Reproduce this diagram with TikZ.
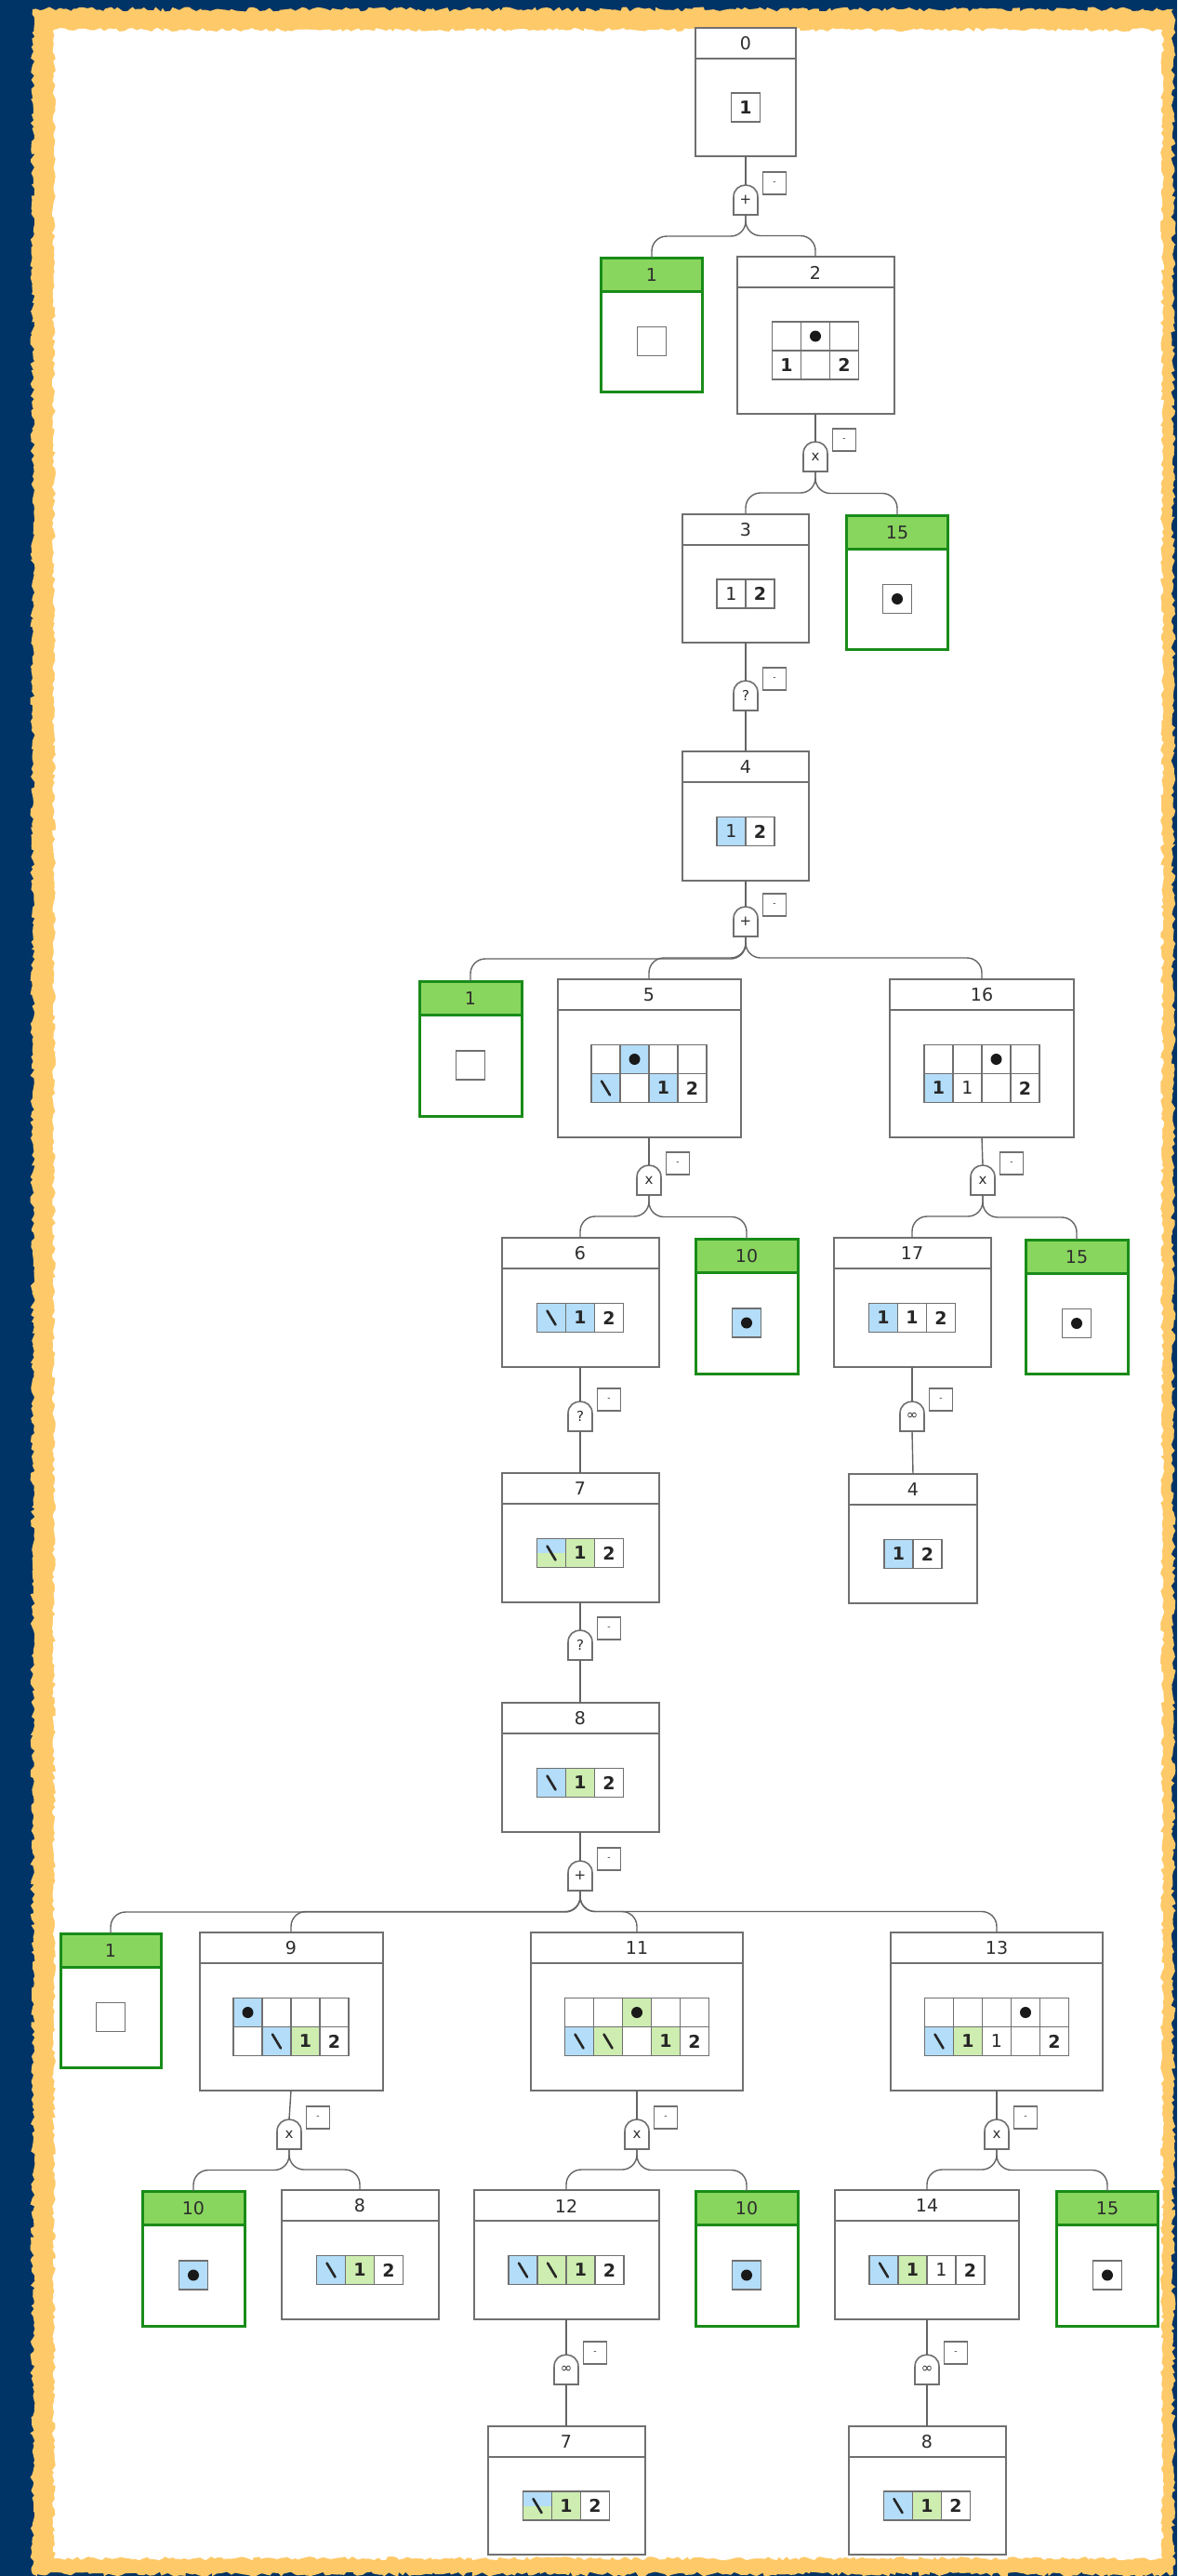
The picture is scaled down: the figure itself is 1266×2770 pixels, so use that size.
\documentclass[tikz,border=0pt]{standalone}
\usepackage{fontspec}
\setmainfont{DejaVu Sans}
\usetikzlibrary{calc,decorations.pathmorphing}
\definecolor{navy}{RGB}{0,51,102}
\definecolor{frameY}{RGB}{254,201,104}
\definecolor{lineG}{RGB}{112,112,112}
\definecolor{edgeG}{RGB}{100,100,100}
\definecolor{gBorder}{RGB}{25,140,25}
\definecolor{gHead}{RGB}{137,214,94}
\definecolor{cBlue}{RGB}{179,221,248}
\definecolor{cGreen}{RGB}{206,237,176}
\definecolor{txt}{RGB}{45,45,45}
\newcount\cellno
\tikzset{
  wbox/.style={draw=lineG, line width=2pt, fill=white, inner sep=0pt, outer sep=0pt},
  gbox/.style={fill=white, inner sep=0pt, outer sep=0pt},
  gline/.style={draw=gBorder, line width=3pt},
  wline/.style={draw=lineG, line width=2pt},
  htext/.style={font=\fontsize{19}{19}\selectfont, text=txt, inner sep=0pt},
  cellbox/.style={draw=lineG, line width=1.6pt, fill=white, minimum size=31pt, inner sep=0pt, outer sep=0pt, text=black!85},
  bsl/.style={line width=2.6pt, black!85, line cap=round},
  gateline/.style={draw=lineG, line width=1.6pt, fill=white},
  gatenode/.style={minimum width=26pt, minimum height=32pt, inner sep=0pt, outer sep=0pt, font=\fontsize{15}{15}\selectfont, text=txt},
  minusbox/.style={draw=lineG, line width=1.5pt, fill=white, minimum width=25pt, minimum height=24pt, inner sep=0pt, font=\fontsize{9}{9}\selectfont, text=txt},
  conn/.style={draw=edgeG, line width=1.4pt},
  bra/.style={to path={[rounded corners=16pt] -- ($(\tikztostart)!0.5!(\tikztostart |- \tikztotarget)$) -| (\tikztotarget)}}
}
\newcommand\dg[1]{{\fontsize{19}{19}\selectfont\bfseries #1}}
\newcommand\dl[1]{{\fontsize{19}{19}\selectfont #1}}
\newcommand\wnode[6]{%
  \node[wbox, minimum width=#5pt, minimum height=#6pt, anchor=north] (#1) at (#3,#4) {};
  \draw[wline] ([yshift=-33pt]#1.north west) -- ([yshift=-33pt]#1.north east);
  \node[htext] (#1-h) at ([yshift=-17pt]#1.north) {#2};
  \coordinate (#1-b) at ($(#1.south)!0.5!([yshift=-33pt]#1.north)$);}
\newcommand\gnode[6]{%
  \node[gbox, minimum width=#5pt, minimum height=#6pt, anchor=north] (#1) at (#3,#4) {};
  \fill[gHead] (#1.north west) rectangle ([yshift=-36pt]#1.north east);
  \draw[gline] (#1.north west) rectangle (#1.south east);
  \draw[gline] ([yshift=-36pt]#1.north west) -- ([yshift=-36pt]#1.north east);
  \node[htext] (#1-h) at ([yshift=-18.5pt]#1.north) {#2};
  \coordinate (#1-b) at ($(#1.south)!0.5!([yshift=-36pt]#1.north)$);}
\newcommand\cel[4]{\global\advance\cellno by 1
  \node[cellbox, fill=#3] (cell\the\cellno) at (#1,#2) {#4};}
\newcommand\bslash{\draw[bsl] ([shift={(-4.5pt,7.5pt)}]cell\the\cellno.center) -- ([shift={(4.5pt,-7.5pt)}]cell\the\cellno.center);}
\newcommand\celD[3]{\cel{#1}{#2}{#3}{}\fill[black!90] (cell\the\cellno.center) circle (6pt);}
\newcommand\celB[3]{\cel{#1}{#2}{#3}{}\bslash}
\newcommand\celH[2]{\cel{#1}{#2}{cBlue}{}%
  \fill[cGreen] (cell\the\cellno.west) rectangle (cell\the\cellno.south east);
  \draw[lineG, line width=1.6pt] (cell\the\cellno.south west) rectangle (cell\the\cellno.north east);
  \bslash}
\newcommand\gate[4]{%
  \filldraw[gateline] (#2-13,#3+32) -- (#2-13,#3+13) .. controls (#2-13,#3-4.3) and (#2+13,#3-4.3) .. (#2+13,#3+13) -- (#2+13,#3+32) -- cycle;
  \node[gatenode] (#1) at (#2,#3+16) {\raisebox{-2pt}{#4}};
  \node[minusbox] (#1-m) at (#2+31,#3-2) {-};}
\begin{document}
\begin{tikzpicture}[x=1pt,y=-1pt]
\useasboundingbox (0,0) rectangle (1266,2770);
\fill[navy] (0,0) rectangle (1266,2770);
\pgfmathsetseed{7}
\fill[frameY, decorate, decoration={random steps, segment length=4pt, amplitude=2.5pt}] (35,10) -- (1262,10) -- (1262,2768) -- (35,2768) -- cycle;
\fill[white, decorate, decoration={random steps, segment length=4pt, amplitude=2pt}] (58,32) -- (1250,32) -- (1250,2751) -- (58,2751) -- cycle;

% ---------- nodes ----------
\wnode{n0}{0}{802}{30}{108}{138}
\begin{scope}[shift={(n0-b)},x=31pt,y=-31pt] \cel{0}{0}{white}{\dg 1} \end{scope}
\gate{g0}{802}{199}{+}

\gnode{n1a}{1}{701}{277}{109}{144}
\begin{scope}[shift={(n1a-b)},x=31pt,y=-31pt] \cel{0}{0}{white}{} \end{scope}
\wnode{n2}{2}{877}{276}{169}{169}
\begin{scope}[shift={(n2-b)},x=31pt,y=-31pt]
 \cel{-1}{-.5}{white}{} \celD{0}{-.5}{white} \cel{1}{-.5}{white}{}
 \cel{-1}{.5}{white}{\dg 1} \cel{0}{.5}{white}{} \cel{1}{.5}{white}{\dg 2}
\end{scope}
\gate{g1}{877}{475}{x}

\wnode{n3}{3}{802}{553}{136}{138}
\begin{scope}[shift={(n3-b)},x=31pt,y=-31pt] \cel{-.5}{0}{white}{\dl 1} \cel{.5}{0}{white}{\dg 2} \end{scope}
\gnode{n15a}{15}{965}{554}{109}{144}
\begin{scope}[shift={(n15a-b)},x=31pt,y=-31pt] \celD{0}{0}{white} \end{scope}
\gate{g2}{802}{732}{?}

\wnode{n4}{4}{802}{808}{136}{139}
\begin{scope}[shift={(n4-b)},x=31pt,y=-31pt] \cel{-.5}{0}{cBlue}{\dl 1} \cel{.5}{0}{white}{\dg 2} \end{scope}
\gate{g3}{802}{975}{+}

\gnode{n1b}{1}{506}{1055}{110}{145}
\begin{scope}[shift={(n1b-b)},x=31pt,y=-31pt] \cel{0}{0}{white}{} \end{scope}
\wnode{n5}{5}{698}{1053}{197}{170}
\begin{scope}[shift={(n5-b)},x=31pt,y=-31pt]
 \cel{-1.5}{-.5}{white}{} \celD{-.5}{-.5}{cBlue} \cel{.5}{-.5}{white}{} \cel{1.5}{-.5}{white}{}
 \celB{-1.5}{.5}{cBlue} \cel{-.5}{.5}{white}{} \cel{.5}{.5}{cBlue}{\dg 1} \cel{1.5}{.5}{white}{\dg 2}
\end{scope}
\wnode{n16}{16}{1056}{1053}{198}{170}
\begin{scope}[shift={(n16-b)},x=31pt,y=-31pt]
 \cel{-1.5}{-.5}{white}{} \cel{-.5}{-.5}{white}{} \celD{.5}{-.5}{white} \cel{1.5}{-.5}{white}{}
 \cel{-1.5}{.5}{cBlue}{\dg 1} \cel{-.5}{.5}{white}{\dl 1} \cel{.5}{.5}{white}{} \cel{1.5}{.5}{white}{\dg 2}
\end{scope}
\gate{g4}{698}{1253}{x}
\gate{g5}{1057}{1253}{x}

\wnode{n6}{6}{624}{1331}{169}{139}
\begin{scope}[shift={(n6-b)},x=31pt,y=-31pt] \celB{-1}{0}{cBlue} \cel{0}{0}{cBlue}{\dg 1} \cel{1}{0}{white}{\dg 2} \end{scope}
\gnode{n10a}{10}{803}{1332}{110}{145}
\begin{scope}[shift={(n10a-b)},x=31pt,y=-31pt] \celD{0}{0}{cBlue} \end{scope}
\wnode{n17}{17}{981}{1331}{169}{139}
\begin{scope}[shift={(n17-b)},x=31pt,y=-31pt] \cel{-1}{0}{cBlue}{\dg 1} \cel{0}{0}{white}{\dg 1} \cel{1}{0}{white}{\dg 2} \end{scope}
\gnode{n15b}{15}{1158}{1333}{110}{144}
\begin{scope}[shift={(n15b-b)},x=31pt,y=-31pt] \celD{0}{0}{white} \end{scope}
\gate{g6}{624}{1507}{?}
\gate{g7}{981}{1507}{∞}

\wnode{n7}{7}{624}{1584}{169}{139}
\begin{scope}[shift={(n7-b)},x=31pt,y=-31pt] \celH{-1}{0} \cel{0}{0}{cGreen}{\dg 1} \cel{1}{0}{white}{\dg 2} \end{scope}
\wnode{n4b}{4}{982}{1585}{138}{139}
\begin{scope}[shift={(n4b-b)},x=31pt,y=-31pt] \cel{-.5}{0}{cBlue}{\dg 1} \cel{.5}{0}{white}{\dg 2} \end{scope}
\gate{g8}{624}{1753}{?}

\wnode{n8}{8}{624}{1831}{169}{139}
\begin{scope}[shift={(n8-b)},x=31pt,y=-31pt] \celB{-1}{0}{cBlue} \cel{0}{0}{cGreen}{\dg 1} \cel{1}{0}{white}{\dg 2} \end{scope}
\gate{g9}{624}{2001}{+}

\gnode{n1c}{1}{119}{2079}{108}{144}
\begin{scope}[shift={(n1c-b)},x=31pt,y=-31pt] \cel{0}{0}{white}{} \end{scope}
\wnode{n9}{9}{313}{2078}{197}{170}
\begin{scope}[shift={(n9-b)},x=31pt,y=-31pt]
 \celD{-1.5}{-.5}{cBlue} \cel{-.5}{-.5}{white}{} \cel{.5}{-.5}{white}{} \cel{1.5}{-.5}{white}{}
 \cel{-1.5}{.5}{white}{} \celB{-.5}{.5}{cBlue} \cel{.5}{.5}{cGreen}{\dg 1} \cel{1.5}{.5}{white}{\dg 2}
\end{scope}
\wnode{n11}{11}{685}{2078}{228}{170}
\begin{scope}[shift={(n11-b)},x=31pt,y=-31pt]
 \cel{-2}{-.5}{white}{} \cel{-1}{-.5}{white}{} \celD{0}{-.5}{cGreen} \cel{1}{-.5}{white}{} \cel{2}{-.5}{white}{}
 \celB{-2}{.5}{cBlue} \celB{-1}{.5}{cGreen} \cel{0}{.5}{white}{} \cel{1}{.5}{cGreen}{\dg 1} \cel{2}{.5}{white}{\dg 2}
\end{scope}
\wnode{n13}{13}{1072}{2078}{228}{170}
\begin{scope}[shift={(n13-b)},x=31pt,y=-31pt]
 \cel{-2}{-.5}{white}{} \cel{-1}{-.5}{white}{} \cel{0}{-.5}{white}{} \celD{1}{-.5}{white} \cel{2}{-.5}{white}{}
 \celB{-2}{.5}{cBlue} \cel{-1}{.5}{cGreen}{\dg 1} \cel{0}{.5}{white}{\dl 1} \cel{1}{.5}{white}{} \cel{2}{.5}{white}{\dg 2}
\end{scope}
\gate{g10}{311}{2279}{x}
\gate{g11}{685}{2279}{x}
\gate{g12}{1072}{2279}{x}

\gnode{n10b}{10}{208}{2356}{110}{145}
\begin{scope}[shift={(n10b-b)},x=31pt,y=-31pt] \celD{0}{0}{cBlue} \end{scope}
\wnode{n8b}{8}{387}{2355}{169}{139}
\begin{scope}[shift={(n8b-b)},x=31pt,y=-31pt] \celB{-1}{0}{cBlue} \cel{0}{0}{cGreen}{\dg 1} \cel{1}{0}{white}{\dg 2} \end{scope}
\wnode{n12}{12}{609}{2355}{199}{139}
\begin{scope}[shift={(n12-b)},x=31pt,y=-31pt] \celB{-1.5}{0}{cBlue} \celB{-.5}{0}{cGreen} \cel{.5}{0}{cGreen}{\dg 1} \cel{1.5}{0}{white}{\dg 2} \end{scope}
\gnode{n10c}{10}{803}{2356}{110}{145}
\begin{scope}[shift={(n10c-b)},x=31pt,y=-31pt] \celD{0}{0}{cBlue} \end{scope}
\wnode{n14}{14}{997}{2355}{198}{139}
\begin{scope}[shift={(n14-b)},x=31pt,y=-31pt] \celB{-1.5}{0}{cBlue} \cel{-.5}{0}{cGreen}{\dg 1} \cel{.5}{0}{white}{\dl 1} \cel{1.5}{0}{white}{\dg 2} \end{scope}
\gnode{n15c}{15}{1191}{2356}{109}{145}
\begin{scope}[shift={(n15c-b)},x=31pt,y=-31pt] \celD{0}{0}{white} \end{scope}
\gate{g13}{609}{2532}{∞}
\gate{g14}{997}{2532}{∞}

\wnode{n7b}{7}{609}{2609}{169}{138}
\begin{scope}[shift={(n7b-b)},x=31pt,y=-31pt] \celH{-1}{0} \cel{0}{0}{cGreen}{\dg 1} \cel{1}{0}{white}{\dg 2} \end{scope}
\wnode{n8c}{8}{997}{2609}{169}{138}
\begin{scope}[shift={(n8c-b)},x=31pt,y=-31pt] \celB{-1}{0}{cBlue} \cel{0}{0}{cGreen}{\dg 1} \cel{1}{0}{white}{\dg 2} \end{scope}

% ---------- connectors ----------
\draw[conn] (n0.south) -- (g0.north);
\draw[conn] (g0.south) to[bra] (n1a.north);
\draw[conn] (g0.south) to[bra] (n2.north);
\draw[conn] (n2.south) -- (g1.north);
\draw[conn] (g1.south) to[bra] (n3.north);
\draw[conn] (g1.south) to[bra] (n15a.north);
\draw[conn] (n3.south) -- (g2.north);
\draw[conn] (g2.south) -- (n4.north);
\draw[conn] (n4.south) -- (g3.north);
\draw[conn] (g3.south) to[bra] (n1b.north);
\draw[conn] (g3.south) to[bra] (n5.north);
\draw[conn] (g3.south) to[bra] (n16.north);
\draw[conn] (n5.south) -- (g4.north);
\draw[conn] (g4.south) to[bra] (n6.north);
\draw[conn] (g4.south) to[bra] (n10a.north);
\draw[conn] (n16.south) -- (g5.north);
\draw[conn] (g5.south) to[bra] (n17.north);
\draw[conn] (g5.south) to[bra] (n15b.north);
\draw[conn] (n6.south) -- (g6.north);
\draw[conn] (g6.south) -- (n7.north);
\draw[conn] (n17.south) -- (g7.north);
\draw[conn] (g7.south) -- (n4b.north);
\draw[conn] (n7.south) -- (g8.north);
\draw[conn] (g8.south) -- (n8.north);
\draw[conn] (n8.south) -- (g9.north);
\draw[conn] (g9.south) to[bra] (n1c.north);
\draw[conn] (g9.south) to[bra] (n9.north);
\draw[conn] (g9.south) to[bra] (n11.north);
\draw[conn] (g9.south) to[bra] (n13.north);
\draw[conn] (n9.south) -- (g10.north);
\draw[conn] (g10.south) to[bra] (n10b.north);
\draw[conn] (g10.south) to[bra] (n8b.north);
\draw[conn] (n11.south) -- (g11.north);
\draw[conn] (g11.south) to[bra] (n12.north);
\draw[conn] (g11.south) to[bra] (n10c.north);
\draw[conn] (n13.south) -- (g12.north);
\draw[conn] (g12.south) to[bra] (n14.north);
\draw[conn] (g12.south) to[bra] (n15c.north);
\draw[conn] (n12.south) -- (g13.north);
\draw[conn] (g13.south) -- (n7b.north);
\draw[conn] (n14.south) -- (g14.north);
\draw[conn] (g14.south) -- (n8c.north);
\end{tikzpicture}
\end{document}
